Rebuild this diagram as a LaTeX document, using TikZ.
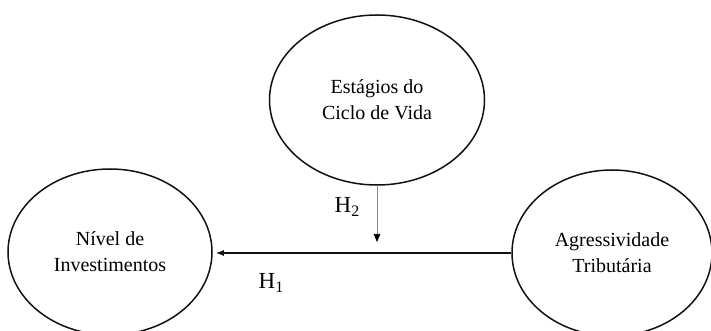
\documentclass[tikz,border=0pt]{standalone}
\usepackage{fontspec}
\setmainfont{Liberation Serif}
\usepackage{tikz}
\usetikzlibrary{positioning,calc,arrows.meta,shapes.geometric}
\definecolor{ILine}{HTML}{111111}
\definecolor{IGray}{HTML}{8A8A8A}
\newcommand{\hyp}[1]{H\raisebox{-0.35ex}{\fontsize{16}{16}\selectfont #1}}

\begin{document}
\begin{tikzpicture}[x=1pt, y=1pt,
  every node/.style={align=center, font=\fontsize{20}{26}\selectfont},
  vbox/.style={ellipse, draw=ILine, line width=1.5pt, inner sep=0pt},
  hlabel/.style={font=\fontsize{23}{26}\selectfont},
  mainarrow/.style={draw=ILine, line width=1.4pt, -{Latex[length=8pt,width=6pt]}},
  modarrow/.style={draw=IGray, line width=0.7pt, -{Triangle[length=8pt,width=6.5pt,fill=black,color=black]}}]
\useasboundingbox (0,0) rectangle (711,331);
\begin{scope}
\clip (0,0) rectangle (711,331);
\node[vbox, minimum width=204, minimum height=166] (nivel) at (110,79) {N\'{\i}vel de\\ Investimentos};
\node[vbox, minimum width=215, minimum height=170] (ciclo) at (377,231) {Estágios do\\ Ciclo de Vida};
\node[vbox, minimum width=200, minimum height=166] (agress) at (612,78) {Agressividade\\ Tributária};
\end{scope}
\coordinate (h2tip) at (377,89);
\draw[mainarrow, shorten >=3pt] (agress.west) -- (agress.west -| nivel.east);
\draw[modarrow] (ciclo.south) -- (h2tip);
\node[hlabel] (h1) at (271,48) {\hyp{1}};
\node[hlabel] (h2) at (347,124) {\hyp{2}};
\end{tikzpicture}
\end{document}
